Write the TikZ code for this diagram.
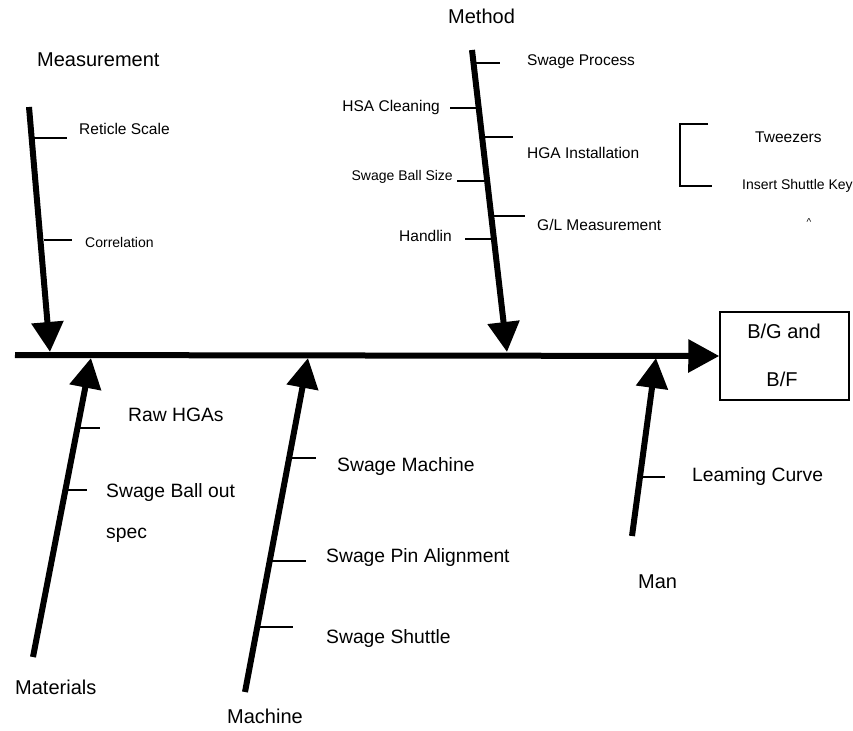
\documentclass[tikz,border=0pt]{standalone}
\usepackage{fontspec}
\setmainfont{Liberation Sans}
\usetikzlibrary{arrows.meta}

\begin{document}
\begin{tikzpicture}[x=1pt,y=-1pt,
  bone/.style={line width=6pt,-{Triangle[length=30pt,width=31pt]}},
  spine/.style={line width=6pt,-{Triangle[length=31pt,width=32pt]}},
  twig/.style={line width=2pt},
  cat/.style={inner sep=0pt,font=\fontsize{20}{24}\selectfont},
  big/.style={inner sep=0pt,font=\fontsize{19.3}{23}\selectfont},
  sm/.style={inner sep=0pt,font=\fontsize{15.5}{18}\selectfont},
  xs/.style={inner sep=0pt,font=\fontsize{14}{17}\selectfont},
  effect/.style={draw,line width=1.5pt,minimum width=129pt,minimum height=88pt,inner sep=0pt}]
\useasboundingbox (0,0) rectangle (853,730);

% effect box and main spine
\node[effect] (box) at (784.5,356) {};
\node[cat,anchor=center] (bg) at (784,331) {B/G and};
\node[cat,anchor=center] (bf) at (782,379) {B/F};
\coordinate (sp0) at (15,355);
\draw[spine] (sp0) -- (box.west);

% bone end points
\coordinate (meA) at (29,107);  \coordinate (meB) at (50,352);
\coordinate (mtA) at (472,50);  \coordinate (mtB) at (507,352);
\coordinate (maA) at (33,657);  \coordinate (maB) at (91,358);
\coordinate (mcA) at (245,692); \coordinate (mcB) at (308,358);
\coordinate (mnA) at (632,536); \coordinate (mnB) at (656,358);

\draw[bone] (meA) -- (meB);
\draw[bone] (mtA) -- (mtB);
\draw[bone] (maA) -- (maB);
\draw[bone] (mcA) -- (mcB);
\draw[bone] (mnA) -- (mnB);

% category labels
\node[cat,anchor=west] (lme) at (37,60) {Measurement};
\node[cat,anchor=west] (lmt) at (448,16) {Method};
\node[cat,anchor=west] (lma) at (15,687) {Materials};
\node[cat,anchor=west] (lmc) at (227,716) {Machine};
\node[cat,anchor=west] (lmn) at (638,582) {Man};

% Measurement causes
\draw[twig] (33,138) -- (67,138);
\draw[twig] (44,240) -- (72,240);
\node[sm,anchor=west] (c1) at (79,129) {Reticle Scale};
\node[xs,anchor=west] (c2) at (85,242) {Correlation};

% Method causes
\draw[twig] (473,63) -- (500,63);
\draw[twig] (450,108) -- (479,108);
\draw[twig] (482,137) -- (513,137);
\draw[twig] (457,181) -- (487,181);
\draw[twig] (491,216) -- (525,216);
\draw[twig] (465,239) -- (494,239);
\node[sm,anchor=west] (c3) at (527,62) {Swage Process};
\node[sm,anchor=east] (c4) at (440,107) {HSA Cleaning};
\node[sm,anchor=west] (c5) at (527,153) {HGA Installation};
\node[xs,anchor=east] (c6) at (453,177) {Swage Ball Size};
\node[sm,anchor=west] (c7) at (537,225) {G/L Measurement};
\node[sm,anchor=east] (c8) at (452,236) {Handlin};

% sub-causes bracket
\draw[twig] (708,124) -- (680,124) -- (680,186) -- (712,186);
\node[sm,anchor=west] (c9) at (755,137) {Tweezers};
\node[xs,anchor=west] (c10) at (742,186) {Insert Shuttle Key};
\node[inner sep=0pt,font=\fontsize{10}{12}\selectfont] (cr) at (809,222) {\^{}};

% Materials causes
\draw[twig] (77,428) -- (100,428);
\draw[twig] (65,490) -- (87,490);
\node[big,anchor=west] (c11) at (128,415) {Raw HGAs};
\node[big,anchor=west] (c12) at (106,493) {Swage Ball out};
\node[big,anchor=west] (c13) at (106,535) {spec};

% Machine causes
\draw[twig] (289,458) -- (316,458);
\draw[twig] (270,561) -- (306,561);
\draw[twig] (257,627) -- (293,627);
\node[big,anchor=west] (c14) at (337,467) {Swage Machine};
\node[big,anchor=west] (c15) at (326,558) {Swage Pin Alignment};
\node[big,anchor=west] (c16) at (326,639) {Swage Shuttle};

% Man causes
\draw[twig] (640,477) -- (665,477);
\node[big,anchor=west] (c17) at (692,477) {Leaming Curve};
\end{tikzpicture}
\end{document}
